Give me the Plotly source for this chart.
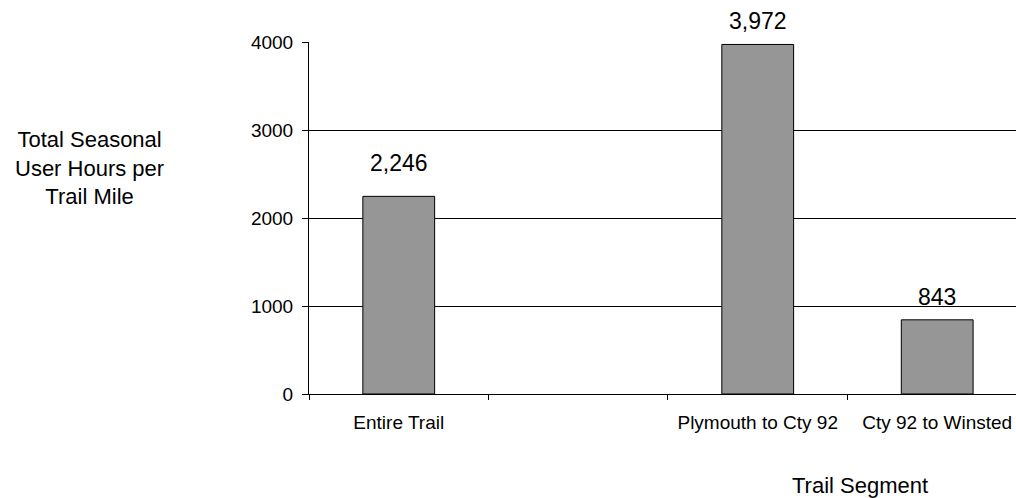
import plotly.graph_objects as go

# Data
segments = ["Entire Trail", " ", "Plymouth to Cty 92", "Cty 92 to Winsted"]
user_hours = [2246, None, 3972, 843]
y_ticks = [0, 1000, 2000, 3000, 4000]

FONT = "Liberation Sans, Arial, sans-serif"
BAR_GRAY = "#969696"

fig = go.Figure()

fig.add_trace(go.Bar(
    x=segments,
    y=user_hours,
    width=0.4,
    marker=dict(color=BAR_GRAY, line=dict(color="black", width=1)),
    hoverinfo="x+y",
))

# value labels above bars (first label sits a bit higher in the original)
label_lift = [18, 0, 8, 8]
for seg, val, lift in zip(segments, user_hours, label_lift):
    if val is None:
        continue
    fig.add_annotation(
        x=seg, y=val, text=f"{val:,}",
        showarrow=False, yanchor="bottom", yshift=lift,
        font=dict(family=FONT, size=23, color="black"),
    )

# horizontal y-axis title on the left
fig.add_annotation(
    xref="paper", yref="paper", x=-0.3105, y=0.642,
    text="Total Seasonal<br>User Hours per<br>Trail Mile",
    showarrow=False, xanchor="center", yanchor="middle", align="center",
    font=dict(family=FONT, size=22, color="black"),
)

# x-axis title, bottom right
fig.add_annotation(
    xref="paper", yref="paper", x=0.779, y=-0.261,
    text="Trail Segment",
    showarrow=False, xanchor="center", yanchor="middle",
    font=dict(family=FONT, size=22, color="black"),
)

fig.update_layout(
    width=1016, height=498,
    margin=dict(l=309, r=0, t=42, b=104),
    plot_bgcolor="white", paper_bgcolor="white",
    showlegend=False,
    font=dict(family=FONT, size=19, color="black"),
    xaxis=dict(
        type="category",
        categoryorder="array", categoryarray=segments,
        range=[-0.5, 3.439],
        tickson="boundaries", ticks="outside", ticklen=5, tickcolor="black",
        showline=True, linecolor="black", linewidth=1,
        showgrid=False,
        tickfont=dict(family=FONT, size=19),
        ticklabelstandoff=11,
    ),
    yaxis=dict(
        range=[0, 4000],
        tickvals=y_ticks, tickformat="d",
        ticks="outside", ticklen=6, tickcolor="black",
        showline=True, linecolor="black", linewidth=1,
        showgrid=True, gridcolor="black", gridwidth=1,
        zeroline=False,
        tickfont=dict(family=FONT, size=19),
        ticklabelstandoff=5,
    ),
)

# drop the page's default body margin so the figure fills the window exactly
fig.write_html(
    "out.html",
    config={"displayModeBar": False},
    post_script="document.body.style.margin='0';document.body.style.overflow='hidden';",
)
